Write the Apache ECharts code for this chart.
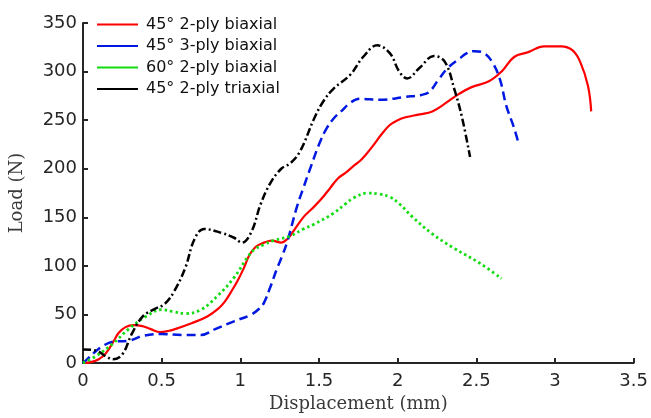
<!DOCTYPE html>
<html>
<head>
<meta charset="utf-8">
<script src="https://cdn.jsdelivr.net/npm/echarts@6/dist/echarts.min.js"></script>
<style>
html,body{margin:0;padding:0;background:#fff;}
#c{width:651px;height:418px;}
</style>
</head>
<body>
<div id="c"></div>
<script>
// Data (Displacement in mm, Load in N)
var seriesNames = ['45° 2-ply biaxial', '45° 3-ply biaxial', '60° 2-ply biaxial', '45° 2-ply triaxial'];

var redX = [0,0.05,0.1,0.145,0.2,0.226,0.27,0.32,0.377,0.43,0.49,0.54,0.585,0.69,0.79,0.86,0.9,0.94,0.98,1.02,1.057,1.1,1.15,1.2,1.26,1.3,1.33,1.4,1.45,1.51,1.57,1.62,1.67,1.72,1.76,1.8,1.84,1.9,1.95,2.0,2.05,2.14,2.22,2.3,2.39,2.47,2.58,2.66,2.74,2.83,2.93,3.04,3.11,3.16,3.21,3.23];
var redY = [0,1,4,10,24,31,37,39,38,35,32,33,35,41,48,56,63,73,84,97,111,120,124,126,124,128,134,150,158,168,180,190,196,203,208,215,223,236,245,250,253,256,259,267,277,284,290,300,315,320,326,326,322,310,285,259];

var blueX = [0,0.04,0.08,0.13,0.19,0.29,0.38,0.5,0.63,0.75,0.84,0.96,1.07,1.12,1.15,1.19,1.23,1.27,1.3,1.36,1.4,1.45,1.5,1.55,1.6,1.64,1.7,1.76,1.89,2.05,2.15,2.2,2.26,2.32,2.39,2.44,2.49,2.55,2.6,2.65,2.69,2.74,2.77];
var blueY = [0,6,12,18,22,23,28,30,29,29,35,43,50,56,62,78,96,112,126,161,180,203,225,242,253,259,268,272,271,274,276,279,292,304,313,319,321,319,310,292,265,242,225];

var greenX = [0,0.08,0.19,0.29,0.4,0.5,0.57,0.65,0.75,0.86,0.96,1.05,1.09,1.15,1.21,1.32,1.4,1.47,1.59,1.67,1.72,1.81,1.88,1.95,2.01,2.09,2.22,2.35,2.52,2.66];
var greenY = [0,7,20,35,48,55,53,51,55,70,88,110,117,122,126,131,138,143,154,164,170,175,174,171,164,151,133,119,103,87];

var blackX = [0,0.08,0.145,0.19,0.25,0.31,0.38,0.46,0.52,0.58,0.65,0.71,0.77,0.88,0.96,1.01,1.07,1.13,1.19,1.26,1.32,1.38,1.47,1.53,1.59,1.7,1.78,1.87,1.95,2.01,2.06,2.14,2.23,2.3,2.36,2.41,2.46];
var blackY = [14,13,7,4,9,30,48,56,61,74,98,128,138,134,129,124,135,164,185,200,206,218,252,270,282,297,315,327,319,300,293,304,316,310,282,252,212];

var xTicks = {min: 0, max: 3.5, interval: 0.5};
var yTicks = {min: 0, max: 350, interval: 50};

function pairs(xs, ys) {
  var out = [];
  for (var i = 0; i < xs.length; i++) out.push([xs[i], ys[i]]);
  return out;
}

var chart = echarts.init(document.getElementById('c'), null, {renderer: 'canvas'});
var axisCol = '#262626';
var labelFont = {fontFamily: 'DejaVu Sans', fontSize: 18, color: '#262626'};

chart.setOption({
  animation: false,
  backgroundColor: '#fff',
  grid: {left: 77, right: 17, top: 23, bottom: 48, containLabel: false},
  legend: {
    orient: 'vertical',
    left: 97,
    top: 16.5,
    padding: 0,
    icon: 'rect',
    itemWidth: 41,
    itemHeight: 2,
    itemGap: 5.5,
    data: seriesNames,
    textStyle: {fontFamily: 'DejaVu Sans', fontSize: 16, color: '#111', lineHeight: 16, padding: [0, 0, 0, 3]}
  },
  xAxis: {
    type: 'value',
    min: xTicks.min, max: xTicks.max, interval: xTicks.interval,
    name: 'Displacement (mm)',
    nameLocation: 'middle',
    nameGap: 30,
    nameTextStyle: {fontFamily: 'DejaVu Serif', fontSize: 18, color: '#3a3a3a'},
    axisLine: {show: true, lineStyle: {color: axisCol, width: 2}},
    axisTick: {show: true, inside: true, length: 5, lineStyle: {color: axisCol, width: 2}},
    axisLabel: Object.assign({margin: 9}, labelFont),
    splitLine: {show: false}
  },
  yAxis: {
    type: 'value',
    min: yTicks.min, max: yTicks.max, interval: yTicks.interval,
    name: 'Load (N)',
    nameLocation: 'middle',
    nameGap: 57,
    nameRotate: 90,
    nameTextStyle: {fontFamily: 'DejaVu Serif', fontSize: 18, color: '#3a3a3a'},
    axisLine: {show: true, lineStyle: {color: axisCol, width: 2}},
    axisTick: {show: true, inside: true, length: 5, lineStyle: {color: axisCol, width: 2}},
    axisLabel: Object.assign({margin: 6}, labelFont),
    splitLine: {show: false}
  },
  series: [
    {name: seriesNames[0], type: 'line', data: pairs(redX, redY), symbol: 'none', smooth: 0.4,
     color: '#ff0000', lineStyle: {color: '#ff0000', width: 2.2, type: 'solid'}},
    {name: seriesNames[1], type: 'line', data: pairs(blueX, blueY), symbol: 'none', smooth: 0.4,
     color: '#0018e0', lineStyle: {color: '#0018e0', width: 2.5, type: [9, 5]}},
    {name: seriesNames[2], type: 'line', data: pairs(greenX, greenY), symbol: 'none', smooth: 0.4,
     color: '#11dd11', lineStyle: {color: '#11dd11', width: 2.8, type: [2.5, 3]}},
    {name: seriesNames[3], type: 'line', data: pairs(blackX, blackY), symbol: 'none', smooth: 0.4,
     color: '#000000', lineStyle: {color: '#000000', width: 2.5, type: [8, 3, 2, 3]}}
  ]
});
</script>
</body>
</html>
